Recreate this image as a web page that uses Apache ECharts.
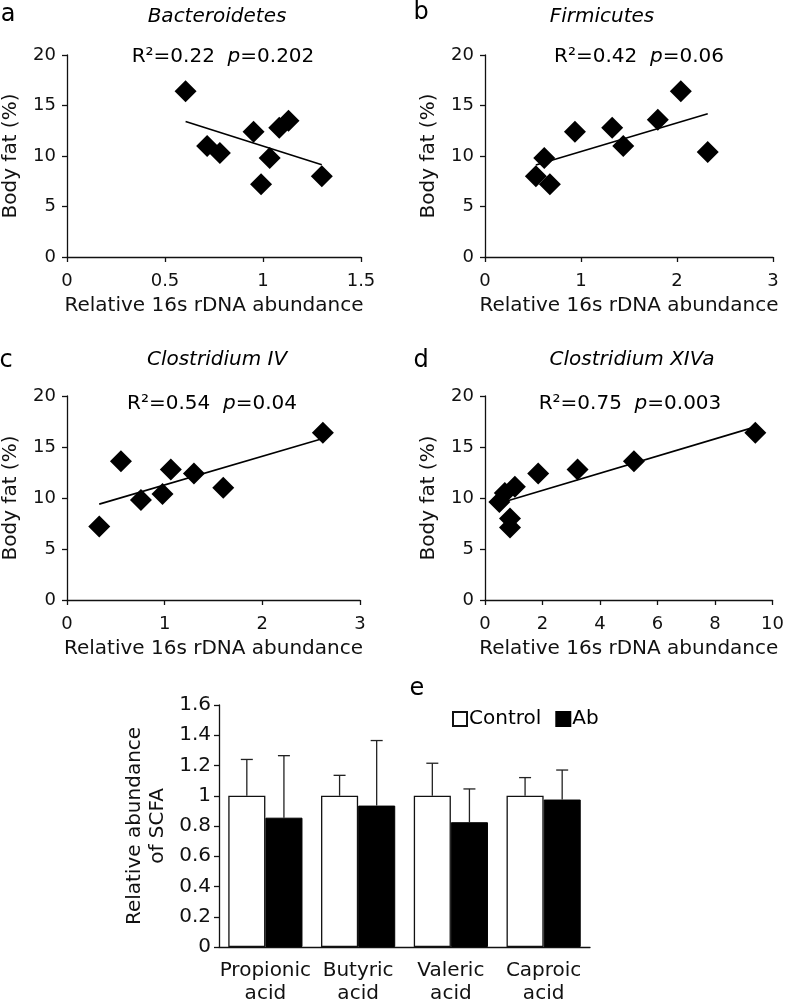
<!DOCTYPE html>
<html>
<head>
<meta charset="utf-8">
<script src="https://cdn.jsdelivr.net/npm/echarts@6/dist/echarts.min.js"></script>
<style>html,body{margin:0;padding:0;background:#fff}#c{width:787px;height:1005px}</style>
</head>
<body>
<div id="c"></div>
<script>
// ---- data ----
const bacteroidetesX = [0.605, 0.715, 0.78, 0.952, 1.034, 0.99, 1.083, 1.13, 1.30];
const bacteroidetesY = [16.4, 11.0, 10.3, 12.4, 9.8, 7.2, 12.8, 13.5, 8.0];
const firmicutesX = [0.53, 0.617, 0.676, 0.937, 1.325, 1.44, 1.80, 2.04, 2.32];
const firmicutesY = [8.0, 9.8, 7.2, 12.4, 12.8, 11.0, 13.6, 16.4, 10.4];
const clostIVX = [0.33, 0.552, 0.757, 0.978, 1.063, 1.30, 1.60, 2.62];
const clostIVY = [7.2, 13.6, 9.8, 10.4, 12.8, 12.4, 11.0, 16.4];
const clostXIVaX = [0.50, 0.69, 1.04, 0.87, 0.87, 1.85, 3.22, 5.18, 9.40];
const clostXIVaY = [9.6, 10.5, 11.1, 8.0, 7.1, 12.4, 12.8, 13.6, 16.4];

const panelTitles = ['Bacteroidetes', 'Firmicutes', 'Clostridium IV', 'Clostridium XIVa'];
const r2Values = ['0.22', '0.42', '0.54', '0.75'];
const pValues = ['0.202', '0.06', '0.04', '0.003'];
const xMaxes = [1.5, 3, 3, 10];
const xIntervals = [0.5, 1, 1, 2];

const acidCategories = ['Propionic\nacid', 'Butyric\nacid', 'Valeric\nacid', 'Caproic\nacid'];
const controlMean = [1, 1, 1, 1];
const controlSD = [0.24, 0.135, 0.215, 0.12];
const abMean = [0.855, 0.935, 0.825, 0.975];
const abSD = [0.41, 0.43, 0.22, 0.195];

// ---- layout ----
const FONT = 'DejaVu Sans';
const grids = [
  {left: 66, top: 55, width: 295, height: 202},
  {left: 485, top: 55, width: 288, height: 202},
  {left: 66, top: 396, width: 294, height: 204},
  {left: 485, top: 396, width: 288, height: 204},
  {left: 219, top: 705, width: 371, height: 246}
];

function regress(xs, ys) {
  const n = xs.length;
  const mx = xs.reduce((a, b) => a + b, 0) / n;
  const my = ys.reduce((a, b) => a + b, 0) / n;
  let sxy = 0, sxx = 0;
  for (let i = 0; i < n; i++) { sxy += (xs[i] - mx) * (ys[i] - my); sxx += (xs[i] - mx) ** 2; }
  const b = sxy / sxx, a = my - b * mx;
  const x0 = Math.min(...xs), x1 = Math.max(...xs);
  return [[x0, a + b * x0], [x1, a + b * x1]];
}

const scatterSets = [
  [bacteroidetesX, bacteroidetesY],
  [firmicutesX, firmicutesY],
  [clostIVX, clostIVY],
  [clostXIVaX, clostXIVaY]
];

const axisLine = {show: true, lineStyle: {color: '#111', width: 1.3}};
const axisTick = {show: true, inside: false, length: 5, lineStyle: {color: '#111', width: 1.3}};
const labelStyle = {fontFamily: FONT, fontSize: 18, color: '#111'};

const xAxes = [], yAxes = [], series = [];
for (let i = 0; i < 4; i++) {
  xAxes.push({
    type: 'value', gridIndex: i, min: 0, max: xMaxes[i], interval: xIntervals[i],
    axisLine, axisTick, splitLine: {show: false},
    axisLabel: Object.assign({margin: 15}, labelStyle),
    name: 'Relative 16s rDNA abundance', nameLocation: 'middle', nameGap: 39,
    nameTextStyle: {fontFamily: FONT, fontSize: 20, color: '#111'}
  });
  yAxes.push({
    type: 'value', gridIndex: i, min: 0, max: 20, interval: 5,
    axisLine, axisTick, splitLine: {show: false},
    axisLabel: Object.assign({margin: 11}, labelStyle),
    name: 'Body fat (%)', nameLocation: 'middle', nameGap: 46,
    nameTextStyle: {fontFamily: FONT, fontSize: 20, color: '#111'}
  });
  const [xs, ys] = scatterSets[i];
  series.push({
    type: 'line', xAxisIndex: i, yAxisIndex: i, data: regress(xs, ys),
    showSymbol: false, symbol: 'none', lineStyle: {color: '#000', width: 1.6}, silent: true, z: 2
  });
  series.push({
    type: 'scatter', xAxisIndex: i, yAxisIndex: i,
    data: xs.map((x, k) => [x, ys[k]]),
    symbol: 'diamond', symbolSize: 22, itemStyle: {color: '#000', opacity: 1}, z: 3
  });
}

// bar panel axes
xAxes.push({
  type: 'category', gridIndex: 4, data: acidCategories,
  axisLine, axisTick: {show: false},
  axisLabel: {fontFamily: FONT, fontSize: 20, color: '#111', margin: 12, lineHeight: 23, interval: 0}
});
yAxes.push({
  type: 'value', gridIndex: 4, min: 0, max: 1.6, interval: 0.2,
  axisLine, axisTick, splitLine: {show: false},
  axisLabel: {fontFamily: FONT, fontSize: 20, color: '#111', margin: 8},
  name: 'Relative abundance\nof SCFA', nameLocation: 'middle', nameGap: 50,
  nameTextStyle: {fontFamily: FONT, fontSize: 20, color: '#111', lineHeight: 23}
});

series.push({
  name: 'Control', type: 'bar', xAxisIndex: 4, yAxisIndex: 4, data: controlMean,
  barGap: '0%', barCategoryGap: '20%',
  itemStyle: {color: '#fff', borderColor: '#111', borderWidth: 1.3}
});
series.push({
  name: 'Ab', type: 'bar', xAxisIndex: 4, yAxisIndex: 4, data: abMean,
  barGap: '0%', barCategoryGap: '20%',
  itemStyle: {color: '#000', borderColor: '#000', borderWidth: 1}
});

function errSeries(means, sds, offsetFrac) {
  return {
    type: 'custom', xAxisIndex: 4, yAxisIndex: 4, z: 1,
    data: means.map((m, k) => [k, m, sds[k]]),
    renderItem: function (params, api) {
      const idx = api.value(0), m = api.value(1), sd = api.value(2);
      const bw = api.size([1, 0])[0];
      const base = api.coord([idx, m]);
      const top = api.coord([idx, m + sd]);
      const x = base[0] + offsetFrac * bw;
      const cap = 6;
      const st = {stroke: '#222', lineWidth: 1.3};
      return {
        type: 'group', children: [
          {type: 'line', shape: {x1: x, y1: base[1], x2: x, y2: top[1]}, style: st},
          {type: 'line', shape: {x1: x - cap, y1: top[1], x2: x + cap, y2: top[1]}, style: st}
        ]
      };
    }
  };
}
series.push(errSeries(controlMean, controlSD, -0.2));
series.push(errSeries(abMean, abSD, 0.2));

// ---- text graphics ----
const graphics = [];
const letters = [['a', 8, 15], ['b', 421, 13], ['c', 6, 361], ['d', 421, 361], ['e', 417, 689]];
letters.forEach(([t, x, y]) => graphics.push({
  type: 'text', x, y, style: {text: t, fontFamily: FONT, fontSize: 24, fill: '#000', align: 'center', verticalAlign: 'middle'}
}));
const titlePos = [[217, 17], [602, 17], [217, 360], [632, 360]];
const r2Pos = [[223, 57], [639, 57], [212, 404], [630, 404]];
for (let i = 0; i < 4; i++) {
  graphics.push({
    type: 'text', x: titlePos[i][0], y: titlePos[i][1],
    style: {text: panelTitles[i], fontFamily: FONT, fontSize: 20, fontStyle: 'italic', fill: '#000', align: 'center', verticalAlign: 'middle'}
  });
  graphics.push({
    type: 'text', x: r2Pos[i][0], y: r2Pos[i][1],
    style: {
      text: '{n|R²=' + r2Values[i] + '  }{i|p}{n|=' + pValues[i] + '}',
      rich: {
        n: {fontFamily: FONT, fontSize: 20, fill: '#000'},
        i: {fontFamily: FONT, fontSize: 20, fontStyle: 'italic', fill: '#000'}
      },
      align: 'center', verticalAlign: 'middle'
    }
  });
}

const chart = echarts.init(document.getElementById('c'), null, {renderer: 'canvas'});
chart.setOption({
  animation: false,
  backgroundColor: '#fff',
  grid: grids,
  xAxis: xAxes,
  yAxis: yAxes,
  legend: {
    data: ['Control', 'Ab'], left: 452, top: 709, icon: 'rect',
    itemWidth: 14, itemHeight: 14, itemGap: 14, padding: 0,
    textStyle: {fontFamily: FONT, fontSize: 20, color: '#000', padding: [0, 0, 0, -3]}
  },
  graphic: graphics,
  series
});
</script>
</body>
</html>
